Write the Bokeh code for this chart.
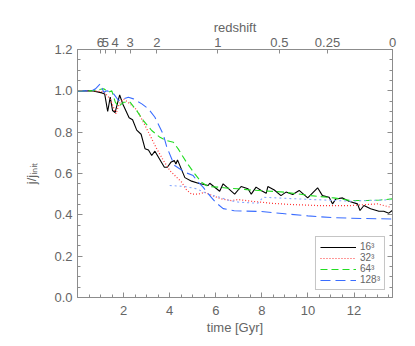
from bokeh.plotting import figure
from bokeh.models import Range1d, LinearAxis, FixedTicker, Legend, LegendItem
from bokeh.embed import file_html
from bokeh.resources import INLINE
import numpy as np

# ---- data ----
t16 = [0, 0.63, 1.06, 1.18, 1.31, 1.42, 1.52, 1.63, 1.83, 1.97, 2.24, 2.39, 2.57, 2.76, 2.93, 3.08, 3.22, 3.36,
       3.77, 3.90, 4.05, 4.20, 4.27, 4.34, 4.66, 4.95, 5.24, 5.67, 5.74, 6.17, 6.32, 6.82, 7.10, 7.40, 7.54, 7.75,
       7.97, 8.19, 8.26, 8.54, 8.83, 9.05, 9.34, 9.62, 9.99, 10.42, 10.63, 10.92, 11.07, 11.21, 11.50, 11.78,
       12.15, 12.26, 12.43, 12.72, 13.08, 13.29, 13.51, 13.66]
j16 = [1.0, 1.0, 0.99, 0.985, 0.90, 0.97, 0.905, 0.895, 0.98, 0.935, 0.87, 0.86, 0.81, 0.79, 0.72, 0.714, 0.687,
       0.708, 0.63, 0.63, 0.654, 0.663, 0.646, 0.666, 0.58, 0.563, 0.553, 0.542, 0.553, 0.514, 0.55, 0.50, 0.537,
       0.526, 0.50, 0.534, 0.518, 0.504, 0.537, 0.52, 0.493, 0.51, 0.498, 0.518, 0.482, 0.531, 0.493, 0.485,
       0.453, 0.477, 0.482, 0.466, 0.453, 0.421, 0.445, 0.429, 0.417, 0.417, 0.408, 0.421]

t32 = [0, 0.63, 1.14, 1.42, 1.67, 1.81, 2.0, 2.28, 2.57, 2.86, 3.15, 3.44, 3.73, 4.01, 4.30, 4.52, 4.73, 4.95,
       5.24, 5.52, 5.81, 6.24, 6.67, 6.96, 7.54, 8.41, 9.27, 10.42, 11.86, 13.01, 13.58]
j32 = [1.0, 1.0, 0.996, 0.96, 0.889, 0.937, 0.961, 0.937, 0.908, 0.848, 0.784, 0.719, 0.663, 0.614, 0.582, 0.558,
       0.521, 0.50, 0.50, 0.509, 0.495, 0.477, 0.469, 0.474, 0.466, 0.456, 0.45, 0.445, 0.445, 0.453, 0.437]

t64 = [0, 0.63, 0.85, 1.14, 1.35, 1.49, 1.64, 1.78, 2.0, 2.28, 2.57, 2.86, 3.22, 3.58, 3.87, 4.16, 4.37, 4.73,
       5.09, 5.38, 5.67, 6.10, 6.53, 6.96, 7.54, 8.96, 10.13, 11.12, 11.86, 12.58, 13.15, 13.66]
j64 = [1.0, 1.0, 1.005, 1.01, 0.993, 1.0, 0.945, 0.924, 0.945, 0.945, 0.904, 0.856, 0.808, 0.775, 0.759, 0.751,
       0.719, 0.654, 0.598, 0.558, 0.537, 0.534, 0.529, 0.526, 0.52, 0.51, 0.493, 0.482, 0.469, 0.469, 0.472, 0.477]

t128 = [0, 0.63, 0.78, 0.99, 1.14, 1.28, 1.57, 1.78, 2.0, 2.21, 2.43, 2.79, 3.08, 3.36, 3.72, 3.87, 4.09, 4.20,
        4.66, 5.02, 5.24, 5.45, 5.74, 6.0, 6.32, 6.8, 7.97, 9.0, 10.0, 11.12, 12.5, 13.67]
j128 = [1.0, 1.0, 1.01, 1.034, 0.993, 1.0, 0.985, 0.953, 0.961, 0.969, 0.961, 0.937, 0.913, 0.872, 0.79, 0.73,
        0.67, 0.64, 0.606, 0.59, 0.558, 0.534, 0.493, 0.46, 0.43, 0.42, 0.416, 0.405, 0.395, 0.386, 0.382, 0.38]

t128b = [4.0, 4.66, 5.17, 5.67, 6.17, 6.6, 7.03, 7.83, 8.05, 8.97, 10.42, 11.86, 13.58]
j128b = [0.542, 0.537, 0.526, 0.50, 0.485, 0.469, 0.461, 0.456, 0.485, 0.48, 0.473, 0.466, 0.473]

time_ticks = [2, 4, 6, 8, 10, 12]
j_ticks = [0.0, 0.2, 0.4, 0.6, 0.8, 1.0, 1.2]
redshift_labels = ["6", "5", "4", "3", "2", "1", "0.5", "0.25", "0"]
redshift_times = [0.99, 1.21, 1.63, 2.28, 3.44, 6.09, 8.76, 10.85, 13.67]
series_labels = ["16³", "32³", "64³", "128³"]

# ---- style ----
FONT = "Liberation Sans"
TXT = "#656565"
AX = "#8c8c8c"
FS = "13px"

p = figure(width=407, height=338, output_backend="svg", toolbar_location=None,
           x_range=Range1d(0, 13.67), y_range=Range1d(0, 1.2),
           min_border_left=77, min_border_right=15, min_border_top=49, min_border_bottom=41,
           x_axis_location=None, y_axis_location=None)
p.grid.visible = False
p.outline_line_color = AX
p.background_fill_color = "white"
p.border_fill_color = "white"


def style(ax, show_labels=True):
    ax.axis_line_color = AX
    ax.major_tick_line_color = AX
    ax.minor_tick_line_color = AX
    ax.major_tick_out = 0
    ax.minor_tick_out = 0
    ax.major_tick_in = 5
    ax.minor_tick_in = 3
    ax.major_label_text_font = FONT
    ax.major_label_text_font_size = FS
    ax.major_label_text_color = TXT if show_labels else None
    ax.axis_label_text_font = FONT
    ax.axis_label_text_font_size = FS
    ax.axis_label_text_font_style = "normal"
    ax.axis_label_text_color = TXT


minor_t = list(np.arange(0.5, 13.6, 0.5))
minor_j = list(np.arange(0.05, 1.2, 0.05))

xb = LinearAxis(ticker=FixedTicker(ticks=time_ticks, minor_ticks=minor_t), axis_label="time [Gyr]")
style(xb)
xb.major_label_standoff = 8
xb.axis_label_standoff = 2
p.add_layout(xb, "below")

xt = LinearAxis(ticker=FixedTicker(ticks=redshift_times, minor_ticks=[]), axis_label="redshift",
                major_label_overrides={t: s for t, s in zip(redshift_times, redshift_labels)})
style(xt)
xt.major_tick_in = 4
xt.major_label_standoff = 3
xt.axis_label_standoff = 0
p.add_layout(xt, "above")

yl = LinearAxis(ticker=FixedTicker(ticks=j_ticks, minor_ticks=minor_j), axis_label="j/jᵢₙᵢₜ",
                major_label_overrides={v: f"{v:.1f}" for v in j_ticks})
style(yl)
yl.major_label_standoff = 5
yl.axis_label_standoff = 12
p.add_layout(yl, "left")

yr = LinearAxis(ticker=FixedTicker(ticks=j_ticks, minor_ticks=minor_j))
style(yr, show_labels=False)
p.add_layout(yr, "right")

r16 = p.line(t16, j16, line_color="black", line_width=1.1)
r32 = p.line(t32, j32, line_color="#ff3333", line_width=1.2, line_dash="1 2")
r64 = p.line(t64, j64, line_color="#22dd22", line_width=1.1, line_dash="7 4")
r128b = p.line(t128b, j128b, line_color="#88a8ff", line_width=1.1, line_dash="2 3")
r128 = p.line(t128, j128, line_color="#3a6dff", line_width=1.1, line_dash="10 5")

legend = Legend(items=[LegendItem(label=series_labels[0], renderers=[r16]),
                       LegendItem(label=series_labels[1], renderers=[r32]),
                       LegendItem(label=series_labels[2], renderers=[r64]),
                       LegendItem(label=series_labels[3], renderers=[r128])],
                location="bottom_right", margin=7, padding=4, spacing=0,
                glyph_width=36, glyph_height=10, label_height=10, label_standoff=4,
                label_text_font=FONT, label_text_font_size="10px", label_text_color=TXT,
                border_line_color=AX, background_fill_color="white", background_fill_alpha=1)
p.add_layout(legend, "center")

open("out.html", "w").write(file_html(p, INLINE))
